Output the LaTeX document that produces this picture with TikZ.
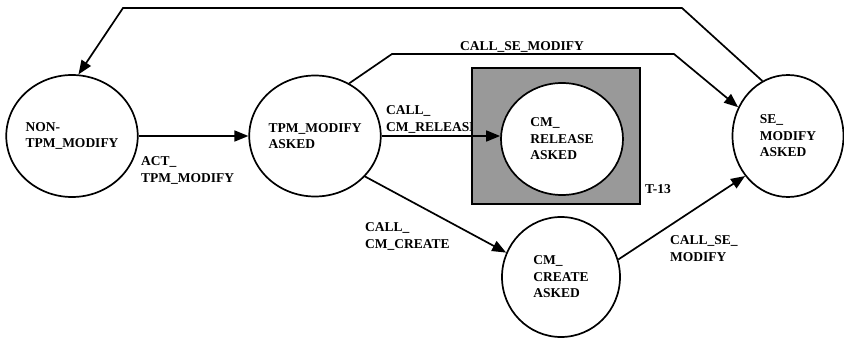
\documentclass[tikz,border=0pt]{standalone}
\usepackage{fontspec}
\setmainfont{Liberation Serif}
\usepackage{xcolor}
\usetikzlibrary{arrows.meta, shapes.geometric}

\definecolor{boxgray}{HTML}{999999}

\begin{document}
\begin{tikzpicture}[x=1pt, y=-1pt,
  state/.style={ellipse, draw, line width=1.7pt, fill=white, inner sep=0pt,
                minimum width=121pt, minimum height=121pt,
                font=\bfseries\fontsize{13.5}{16.5}\selectfont, align=left},
  lbl/.style={anchor=north west, inner sep=0pt,
              font=\bfseries\fontsize{13.5}{17}\selectfont, align=left},
  arrow/.style={-{Triangle[length=14pt,width=11pt]}, line width=1.7pt},
  every node/.style={align=left}
]
\useasboundingbox (0,0) rectangle (844,340);

% label under the grey box
\node[lbl] (lrel) at (386,105) {CALL\_\\CM\_RELEASE};

% grey box T-13
\node[draw, fill=boxgray, line width=1.8pt, minimum width=168pt,
      minimum height=136pt, inner sep=0pt] (tbox) at (556,136) {};
\node[lbl] (lt13) at (645,184) {T-13};

% states
\node[state, minimum height=122pt] (non) at (72,136) {NON-\\TPM\_MODIFY};
\node[state] (tpm) at (315,136) {TPM\_MODIFY\\ASKED};
\node[state, minimum width=122pt, minimum height=112pt] (cmr) at (562,139)
  {CM\_\\RELEASE\\ASKED};
\node[state, minimum width=118pt, minimum height=120pt] (cmc) at (561,277)
  {CM\_\\CREATE\\ASKED};
\node[state, minimum width=111pt, minimum height=122pt] (se) at (788,136)
  {SE\_\\MODIFY\\ASKED};

% bends
\coordinate (topr) at (682,8);
\coordinate (topl) at (123,8);
\coordinate (sel) at (392,54);
\coordinate (ser) at (674,54);

% transitions
\draw[arrow] (non) -- (tpm);
\draw[arrow] (tpm.east) -- (tpm.east -| cmr.west);
\draw[arrow] (tpm.57) -- (sel) -- (ser) -- (se.150);
\draw[arrow] (tpm.-39) -- (cmc.156);
\draw[arrow] (cmc.17) -- (se.223);
\draw[arrow] (se.115) -- (topr) -- (topl) -- (non.84);

% labels
\node[lbl] (lact) at (141,156) {ACT\_\\TPM\_MODIFY};
\node[lbl] (lsem) at (460,41) {CALL\_SE\_MODIFY};
\node[lbl] (lcre) at (365,222) {CALL\_\\CM\_CREATE};
\node[lbl] (lse) at (670,235) {CALL\_SE\_\\MODIFY};
\end{tikzpicture}
\end{document}
